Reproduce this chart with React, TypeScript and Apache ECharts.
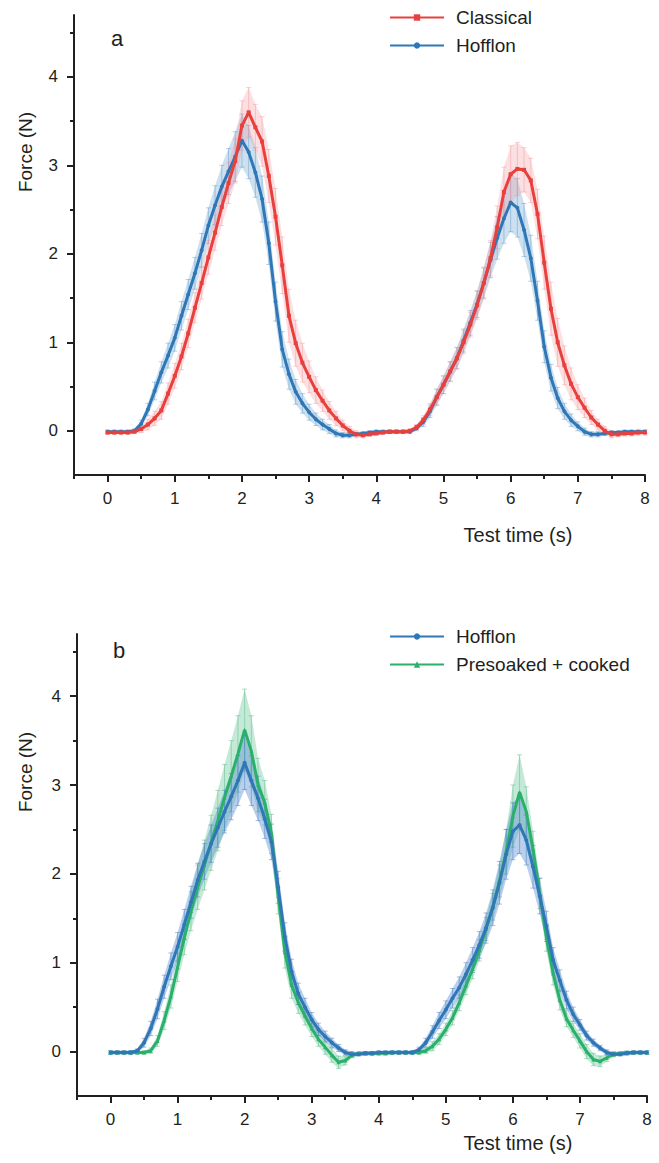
import React, { useEffect, useRef } from 'react';
import * as echarts from 'echarts';

// ---------- data ----------
const TIME = [
  0.0, 0.1, 0.2, 0.3, 0.4, 0.5, 0.6, 0.7, 0.8, 0.9,
  1.0, 1.1, 1.2, 1.3, 1.4, 1.5, 1.6, 1.7, 1.8, 1.9,
  2.0, 2.1, 2.2, 2.3, 2.4, 2.5, 2.6, 2.7, 2.8, 2.9,
  3.0, 3.1, 3.2, 3.3, 3.4, 3.5, 3.6, 3.7, 3.8, 3.9,
  4.0, 4.1, 4.2, 4.3, 4.4, 4.5, 4.6, 4.7, 4.8, 4.9,
  5.0, 5.1, 5.2, 5.3, 5.4, 5.5, 5.6, 5.7, 5.8, 5.9,
  6.0, 6.1, 6.2, 6.3, 6.4, 6.5, 6.6, 6.7, 6.8, 6.9,
  7.0, 7.1, 7.2, 7.3, 7.4, 7.5, 7.6, 7.7, 7.8, 7.9,
  8.0,
];

// Panel a – Classical (mean, N)
const CLASSICAL = [
  -0.02, -0.02, -0.02, -0.02, -0.01, 0.02, 0.07, 0.14, 0.23, 0.42,
  0.62, 0.84, 1.10, 1.39, 1.67, 1.96, 2.24, 2.53, 2.80, 3.05,
  3.45, 3.60, 3.43, 3.27, 2.88, 2.42, 1.87, 1.30, 0.99, 0.77,
  0.61, 0.46, 0.34, 0.23, 0.14, 0.06, 0.00, -0.04, -0.05, -0.04,
  -0.03, -0.02, -0.01, -0.01, -0.01, 0.00, 0.04, 0.12, 0.24, 0.38,
  0.52, 0.67, 0.82, 1.00, 1.20, 1.42, 1.67, 1.95, 2.30, 2.70,
  2.90, 2.96, 2.95, 2.83, 2.45, 1.90, 1.38, 1.00, 0.74, 0.53,
  0.38, 0.26, 0.15, 0.07, 0.00, -0.04, -0.04, -0.03, -0.03, -0.02,
  -0.02,
];
const CLASSICAL_ERR = [
  0.02, 0.02, 0.02, 0.02, 0.02, 0.04, 0.06, 0.08, 0.10, 0.12,
  0.14, 0.15, 0.16, 0.17, 0.18, 0.19, 0.20, 0.21, 0.23, 0.25,
  0.28, 0.28, 0.26, 0.28, 0.30, 0.32, 0.32, 0.30, 0.26, 0.22,
  0.18, 0.15, 0.12, 0.10, 0.08, 0.06, 0.05, 0.04, 0.03, 0.02,
  0.02, 0.02, 0.02, 0.02, 0.02, 0.02, 0.03, 0.05, 0.07, 0.09,
  0.10, 0.11, 0.12, 0.13, 0.14, 0.16, 0.18, 0.20, 0.24, 0.28,
  0.32, 0.30, 0.25, 0.25, 0.28, 0.30, 0.30, 0.27, 0.22, 0.18,
  0.14, 0.11, 0.08, 0.06, 0.05, 0.04, 0.03, 0.03, 0.03, 0.03,
  0.03,
];

// Panel a – Hofflon
const HOFFLON_A = [
  -0.01, -0.01, -0.01, -0.01, 0.00, 0.08, 0.24, 0.45, 0.66, 0.85,
  1.05, 1.30, 1.54, 1.78, 2.04, 2.32, 2.55, 2.76, 2.93, 3.10,
  3.28, 3.15, 2.92, 2.62, 2.12, 1.46, 0.92, 0.64, 0.44, 0.31,
  0.21, 0.13, 0.07, 0.02, -0.03, -0.05, -0.05, -0.04, -0.03, -0.02,
  -0.01, -0.01, -0.01, -0.01, -0.01, -0.01, 0.03, 0.10, 0.22, 0.38,
  0.52, 0.67, 0.82, 1.02, 1.22, 1.43, 1.67, 1.93, 2.18, 2.40,
  2.58, 2.52, 2.27, 1.95, 1.47, 0.95, 0.60, 0.37, 0.22, 0.12,
  0.05, -0.01, -0.04, -0.04, -0.03, -0.02, -0.02, -0.01, -0.01, -0.01,
  -0.01,
];
const HOFFLON_A_ERR = [
  0.02, 0.02, 0.02, 0.02, 0.02, 0.04, 0.07, 0.10, 0.12, 0.14,
  0.15, 0.16, 0.17, 0.18, 0.19, 0.20, 0.22, 0.24, 0.26, 0.28,
  0.30, 0.30, 0.28, 0.26, 0.24, 0.22, 0.20, 0.17, 0.14, 0.11,
  0.09, 0.07, 0.06, 0.05, 0.04, 0.03, 0.03, 0.02, 0.02, 0.02,
  0.02, 0.02, 0.02, 0.02, 0.02, 0.02, 0.03, 0.05, 0.07, 0.09,
  0.10, 0.11, 0.12, 0.13, 0.14, 0.15, 0.17, 0.20, 0.24, 0.28,
  0.33, 0.33, 0.30, 0.26, 0.22, 0.18, 0.15, 0.12, 0.09, 0.07,
  0.05, 0.04, 0.03, 0.03, 0.02, 0.02, 0.02, 0.02, 0.02, 0.02,
  0.02,
];

// Panel b – Hofflon
const HOFFLON_B = [
  -0.01, -0.01, -0.01, -0.01, 0.01, 0.10, 0.26, 0.48, 0.73, 0.96,
  1.18, 1.43, 1.68, 1.93, 2.14, 2.34, 2.52, 2.70, 2.87, 3.05,
  3.25, 3.05, 2.85, 2.62, 2.36, 1.85, 1.29, 0.90, 0.65, 0.50,
  0.36, 0.25, 0.17, 0.10, 0.04, -0.01, -0.03, -0.03, -0.02, -0.02,
  -0.01, -0.01, -0.01, -0.01, -0.01, -0.01, 0.02, 0.10, 0.22, 0.35,
  0.47, 0.60, 0.72, 0.87, 1.03, 1.20, 1.39, 1.62, 1.90, 2.22,
  2.48, 2.55, 2.38, 2.08, 1.75, 1.41, 1.03, 0.80, 0.58, 0.42,
  0.30, 0.18, 0.10, 0.04, -0.01, -0.03, -0.03, -0.02, -0.01, -0.01,
  -0.01,
];
const HOFFLON_B_ERR = [
  0.02, 0.02, 0.02, 0.02, 0.02, 0.05, 0.08, 0.11, 0.13, 0.15,
  0.16, 0.17, 0.18, 0.19, 0.20, 0.21, 0.22, 0.24, 0.26, 0.28,
  0.30, 0.28, 0.25, 0.22, 0.20, 0.18, 0.16, 0.14, 0.12, 0.10,
  0.08, 0.07, 0.06, 0.05, 0.04, 0.03, 0.03, 0.02, 0.02, 0.02,
  0.02, 0.02, 0.02, 0.02, 0.02, 0.02, 0.03, 0.05, 0.07, 0.09,
  0.10, 0.11, 0.12, 0.13, 0.14, 0.15, 0.17, 0.20, 0.24, 0.28,
  0.32, 0.32, 0.28, 0.24, 0.20, 0.17, 0.14, 0.12, 0.10, 0.08,
  0.06, 0.05, 0.04, 0.03, 0.03, 0.02, 0.02, 0.02, 0.02, 0.02,
  0.02,
];

// Panel b – Presoaked + cooked
const PRESOAKED = [
  -0.01, -0.01, -0.01, -0.01, -0.01, -0.01, 0.01, 0.12, 0.35, 0.62,
  0.95, 1.28, 1.58, 1.85, 2.10, 2.35, 2.60, 2.86, 3.10, 3.35,
  3.62, 3.38, 3.00, 2.80, 2.45, 1.75, 1.12, 0.75, 0.55, 0.40,
  0.26, 0.14, 0.05, -0.04, -0.12, -0.10, -0.04, -0.02, -0.02, -0.02,
  -0.02, -0.02, -0.01, -0.01, -0.01, -0.01, -0.01, 0.01, 0.06, 0.14,
  0.25, 0.38, 0.55, 0.74, 0.93, 1.14, 1.38, 1.63, 1.92, 2.25,
  2.65, 2.92, 2.70, 2.28, 1.78, 1.28, 0.88, 0.58, 0.37, 0.24,
  0.12, 0.00, -0.09, -0.11, -0.07, -0.03, -0.02, -0.01, -0.01, -0.01,
  -0.01,
];
const PRESOAKED_ERR = [
  0.02, 0.02, 0.02, 0.02, 0.02, 0.02, 0.03, 0.06, 0.10, 0.13,
  0.16, 0.19, 0.22, 0.25, 0.28, 0.31, 0.34, 0.37, 0.40, 0.43,
  0.46, 0.40, 0.30, 0.25, 0.22, 0.20, 0.18, 0.15, 0.12, 0.10,
  0.09, 0.08, 0.08, 0.08, 0.07, 0.05, 0.03, 0.02, 0.02, 0.02,
  0.02, 0.02, 0.02, 0.02, 0.02, 0.02, 0.02, 0.03, 0.05, 0.06,
  0.07, 0.08, 0.09, 0.10, 0.11, 0.12, 0.13, 0.15, 0.18, 0.25,
  0.35, 0.42, 0.28, 0.20, 0.17, 0.15, 0.13, 0.11, 0.09, 0.08,
  0.08, 0.08, 0.07, 0.06, 0.04, 0.03, 0.02, 0.02, 0.02, 0.02,
  0.02,
];

const X_MAJOR = [0, 1, 2, 3, 4, 5, 6, 7, 8];
const X_MINOR = [-0.5, 0.5, 1.5, 2.5, 3.5, 4.5, 5.5, 6.5, 7.5];
const Y_MAJOR = [0, 1, 2, 3, 4];
const Y_MINOR = [0.5, 1.5, 2.5, 3.5, 4.5];

// ---------- style ----------
const INK = '#231f20';
const RED = '#e8403d';
const BLUE = '#2f77b6';
const GREEN = '#2bb06c';
const FONT = 'Liberation Sans';

function majorAxis(dim: 'x' | 'y', gridIndex: number) {
  const isX = dim === 'x';
  const vals = isX ? X_MAJOR : Y_MAJOR;
  return {
    type: 'value',
    gridIndex,
    position: isX ? 'bottom' : 'left',
    min: -0.5,
    max: isX ? 8 : 4.7,
    axisLine: { show: true, onZero: false, lineStyle: { color: INK, width: 2 } },
    axisTick: { show: true, inside: false, length: 7, customValues: vals, lineStyle: { color: INK, width: 2 } },
    axisLabel: {
      show: true,
      customValues: vals,
      margin: isX ? 15 : 16,
      fontSize: 17,
      color: INK,
      fontFamily: FONT,
      showMinLabel: true,
      showMaxLabel: true,
    },
    splitLine: { show: false },
    minorTick: { show: false },
  };
}

function minorAxis(dim: 'x' | 'y', gridIndex: number) {
  const isX = dim === 'x';
  return {
    type: 'value',
    gridIndex,
    position: isX ? 'bottom' : 'left',
    min: -0.5,
    max: isX ? 8 : 4.7,
    axisLine: { show: false, onZero: false },
    axisTick: { show: true, inside: false, length: 4, customValues: isX ? X_MINOR : Y_MINOR, lineStyle: { color: INK, width: 2 } },
    axisLabel: { show: false },
    splitLine: { show: false },
  };
}

function band(xi: number, yi: number, mean: number[], err: number[], fill: string, bar: string, z: number) {
  return {
    type: 'custom',
    xAxisIndex: xi,
    yAxisIndex: yi,
    silent: true,
    z,
    encode: { x: 0, y: 1 },
    data: TIME.map((t, i) => [t, mean[i], err[i]]),
    renderItem: (params: any, api: any) => {
      const t = api.value(0);
      const m = api.value(1);
      const e = api.value(2);
      const top = api.coord([t, m + e]);
      const bot = api.coord([t, m - e]);
      const children: any[] = [];
      if (params.dataIndex === 0) {
        const upper = TIME.map((tt, k) => api.coord([tt, mean[k] + err[k]]));
        const lower = TIME.map((tt, k) => api.coord([tt, mean[k] - err[k]])).reverse();
        children.push({ type: 'polygon', shape: { points: upper.concat(lower) }, style: { fill } });
      }
      const ls = { stroke: bar, lineWidth: 1 };
      children.push({ type: 'line', shape: { x1: top[0], y1: top[1], x2: bot[0], y2: bot[1] }, style: ls });
      children.push({ type: 'line', shape: { x1: top[0] - 2.5, y1: top[1], x2: top[0] + 2.5, y2: top[1] }, style: ls });
      children.push({ type: 'line', shape: { x1: bot[0] - 2.5, y1: bot[1], x2: bot[0] + 2.5, y2: bot[1] }, style: ls });
      return { type: 'group', children };
    },
  };
}

function meanLine(name: string, xi: number, yi: number, mean: number[], color: string, symbol: string, z: number) {
  return {
    type: 'line',
    name,
    xAxisIndex: xi,
    yAxisIndex: yi,
    data: TIME.map((t, i) => [t, mean[i]]),
    symbol,
    symbolSize: 4,
    showSymbol: true,
    showAllSymbol: true,
    lineStyle: { color, width: 3 },
    itemStyle: { color },
    z,
  };
}

function legend(names: string[], top: number) {
  return {
    data: names,
    orient: 'vertical',
    left: 384,
    top,
    itemWidth: 54,
    itemHeight: 8,
    itemGap: 9,
    textStyle: { fontSize: 19, color: INK, fontFamily: FONT, padding: [0, 0, 0, 7] },
  };
}

function txt(text: string, x: number, y: number, size: number, rotate = false) {
  return {
    type: 'text',
    x,
    y,
    rotation: rotate ? Math.PI / 2 : 0,
    style: { text, fontSize: size, fill: INK, fontFamily: FONT, textAlign: 'center', textVerticalAlign: 'middle' },
  };
}

export default function App() {
  const ref = useRef<HTMLDivElement>(null);
  useEffect(() => {
    const chart = echarts.init(ref.current!, null, { renderer: 'svg' });
    const option: any = {
      animation: false,
      backgroundColor: '#ffffff',
      grid: [
        { left: 74, top: 15, width: 571, height: 460 },
        { left: 77, top: 634, width: 570, height: 462 },
      ],
      xAxis: [majorAxis('x', 0), minorAxis('x', 0), majorAxis('x', 1), minorAxis('x', 1)],
      yAxis: [majorAxis('y', 0), minorAxis('y', 0), majorAxis('y', 1), minorAxis('y', 1)],
      legend: [legend(['Classical', 'Hofflon'], 3), legend(['Hofflon', 'Presoaked + cooked'], 622)],
      series: [
        band(0, 0, HOFFLON_A, HOFFLON_A_ERR, 'rgba(110,165,210,0.35)', 'rgba(90,150,205,0.45)', 1),
        band(0, 0, CLASSICAL, CLASSICAL_ERR, 'rgba(245,150,155,0.3)', 'rgba(240,140,145,0.4)', 2),
        meanLine('Hofflon', 0, 0, HOFFLON_A, BLUE, 'circle', 5),
        meanLine('Classical', 0, 0, CLASSICAL, RED, 'rect', 6),
        band(2, 2, PRESOAKED, PRESOAKED_ERR, 'rgba(110,200,155,0.4)', 'rgba(90,190,140,0.5)', 1),
        band(2, 2, HOFFLON_B, HOFFLON_B_ERR, 'rgba(80,135,205,0.4)', 'rgba(70,125,200,0.5)', 2),
        meanLine('Presoaked + cooked', 2, 2, PRESOAKED, GREEN, 'triangle', 5),
        meanLine('Hofflon', 2, 2, HOFFLON_B, BLUE, 'circle', 6),
      ],
      graphic: [
        txt('a', 117, 38, 22),
        txt('Force (N)', 25, 152, 19, true),
        txt('Test time (s)', 518, 535, 20),
        txt('b', 119, 650, 22),
        txt('Force (N)', 25, 772, 19, true),
        txt('Test time (s)', 518, 1143, 20),
      ],
    };
    chart.setOption(option);
    return () => chart.dispose();
  }, []);
  return <div ref={ref} style={{ position: 'absolute', left: 0, top: 0, width: 659, height: 1163 }} />;
}
